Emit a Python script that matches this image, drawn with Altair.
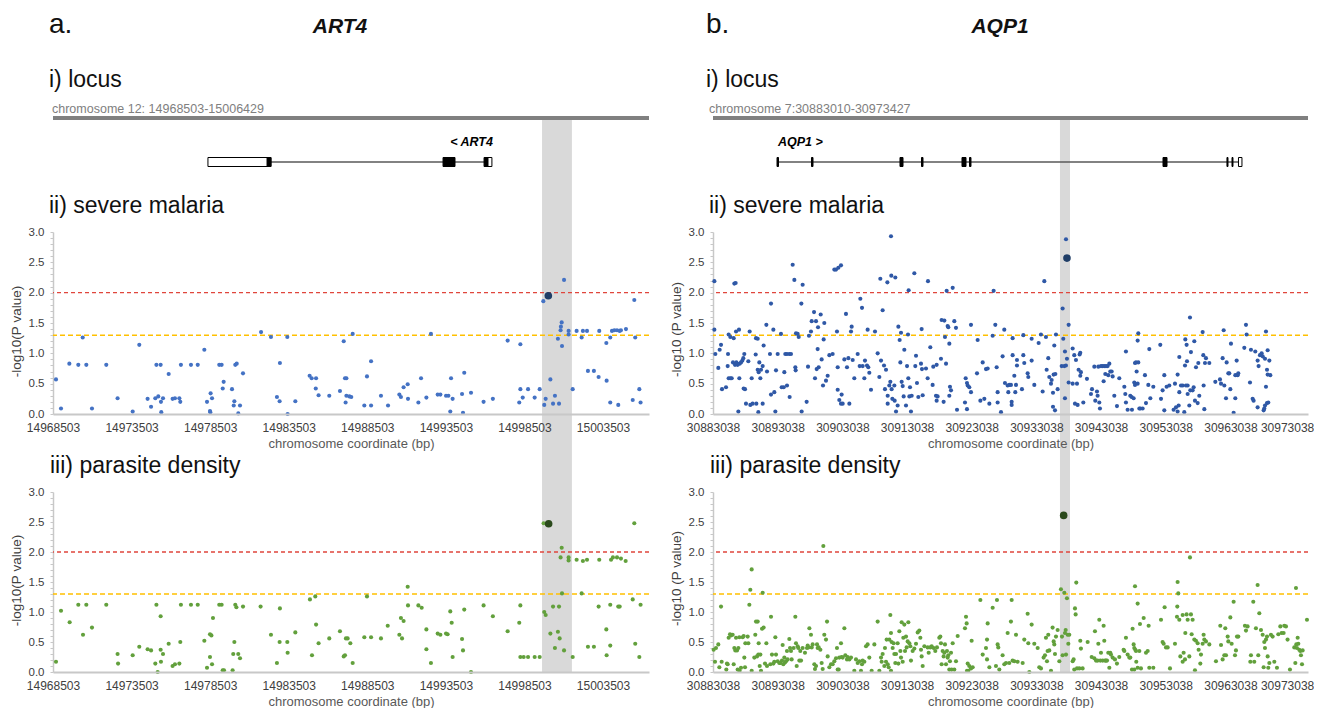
import altair as alt
import pandas as pd

FONT = "Liberation Sans"

# ---------------- data (positions in kb from region start, -log10 P) ----------------
ART4_START = 14968503
ART4_END = 15006429
ART4_TICKS = [14968503, 14973503, 14978503, 14983503, 14988503, 14993503, 14998503, 15003503]
ART4_CHROM = "chromosome 12: 14968503-15006429"

AQP1_START = 30883038
AQP1_AXIS_END = 30975038
AQP1_TICKS = [30883038, 30893038, 30903038, 30913038, 30923038, 30933038,
              30943038, 30953038, 30963038, 30973038]
AQP1_CHROM = "chromosome 7:30883010-30973427"

ART4_SEVERE = [
    (0.19, 0.57), (0.51, 0.09), (1.04, 0.83), (1.61, 0.81), (1.89, 1.26), (2.12, 0.81), (2.48, 0.09),
    (3.39, 0.81), (4.11, 0.26), (5.07, 0.04), (5.49, 1.14), (6.02, 0.25), (6.24, 0.12), (6.51, 0.26),
    (6.58, 0.81), (6.70, 0.29), (6.85, 0.81), (6.87, 0.20), (6.89, 0.03), (7.00, 0.26), (7.36, 0.66),
    (7.61, 0.25), (7.76, 0.26), (8.04, 0.26), (8.10, 0.20), (8.14, 0.81), (8.78, 0.81), (9.21, 0.81),
    (9.63, 1.06), (9.80, 0.20), (10.03, 0.34), (10.01, 0.03), (9.99, 0.05), (10.12, 0.26), (10.58, 0.81),
    (10.73, 0.81), (10.80, 0.42), (10.86, 0.53), (11.39, 0.41), (11.50, 0.14), (11.54, 0.21), (11.60, 0.81),
    (11.69, 0.83), (11.79, 0.01), (11.90, 0.14), (12.09, 0.67), (13.24, 1.35), (13.87, 1.27), (14.25, 0.28),
    (14.42, 0.21), (14.44, 0.84), (14.91, 1.27), (14.93, 0.00), (15.42, 0.21), (16.33, 0.63), (16.46, 0.59),
    (16.74, 0.59), (16.72, 0.42), (16.90, 0.31), (17.58, 0.30), (18.26, 0.38), (18.50, 1.20), (18.58, 0.59),
    (18.67, 0.59), (18.62, 0.19), (18.67, 0.30), (18.86, 0.29), (18.98, 0.28), (19.07, 1.32), (19.81, 0.14),
    (19.98, 0.62), (20.24, 0.14), (20.24, 0.87), (20.87, 0.30), (21.32, 0.14), (22.04, 0.32), (22.14, 0.28),
    (22.31, 0.44), (22.57, 0.49), (22.59, 0.25), (23.25, 0.19), (23.42, 0.59), (23.76, 0.27), (24.05, 1.32),
    (24.48, 0.32), (24.65, 0.32), (25.01, 0.30), (25.16, 0.30), (25.33, 0.59), (25.28, 0.04), (25.43, 0.25),
    (26.03, 0.33), (26.09, 0.02), (26.17, 0.68), (26.60, 0.35), (27.40, 0.20), (27.99, 0.25), (28.93, 1.21),
    (29.67, 0.19), (29.74, 1.15), (29.74, 0.41), (29.89, 0.27), (30.23, 0.41), (30.65, 0.27), (30.97, 0.41),
    (31.20, 1.86), (31.26, 0.15), (31.35, 0.25), (31.65, 0.57), (31.82, 0.17), (31.94, 0.30), (32.13, 1.24),
    (32.20, 0.17), (32.30, 1.38), (32.32, 1.44), (32.37, 1.51), (32.39, 1.12), (32.52, 2.21), (32.81, 1.37),
    (32.81, 1.31), (33.07, 0.41), (33.32, 1.37), (33.64, 1.26), (33.72, 1.37), (33.98, 1.37), (34.04, 0.71),
    (34.42, 0.71), (34.72, 0.61), (34.76, 1.37), (35.21, 1.17), (35.23, 0.55), (35.46, 1.26), (35.46, 0.19),
    (35.57, 1.37), (35.72, 1.38), (35.89, 1.38), (35.97, 0.15), (36.06, 1.37), (36.14, 1.38), (36.46, 1.40),
    (36.89, 0.23), (36.99, 1.88), (37.05, 1.26), (37.31, 0.41), (37.39, 0.19),
]
ART4_SEVERE_TOP = (31.52, 1.95)

ART4_PARASITE = [
    (0.19, 0.17), (0.51, 1.02), (1.06, 0.83), (1.61, 1.12), (1.91, 0.62), (2.12, 1.12), (2.48, 0.74),
    (3.39, 1.12), (4.11, 0.30), (4.14, 0.14), (5.07, 0.28), (5.49, 0.42), (6.02, 0.38), (6.24, 0.36),
    (6.51, 0.14), (6.58, 1.12), (6.66, 0.00), (6.85, 0.37), (6.85, 0.93), (6.87, 0.17), (7.00, 0.30),
    (7.36, 0.47), (7.61, 0.10), (7.76, 0.13), (8.04, 0.14), (8.10, 0.50), (8.14, 1.12), (8.78, 1.12),
    (9.21, 1.12), (9.63, 0.52), (9.80, 0.07), (9.99, 0.63), (10.08, 0.61), (9.99, 0.25), (10.12, 0.13),
    (10.18, 0.90), (10.58, 1.12), (10.73, 1.12), (10.80, 0.03), (10.88, 0.03), (11.43, 0.03), (11.47, 0.30),
    (11.54, 0.50), (11.60, 1.12), (11.67, 1.08), (11.79, 0.30), (11.90, 0.23), (12.09, 1.09), (13.21, 1.09),
    (13.87, 0.62), (14.25, 0.15), (14.42, 0.50), (14.44, 1.06), (14.91, 0.50), (14.93, 0.32), (15.42, 0.66),
    (16.35, 1.21), (16.48, 0.28), (16.69, 1.26), (16.74, 0.79), (16.90, 0.48), (17.58, 0.56), (18.26, 0.68),
    (18.50, 0.26), (18.58, 0.28), (18.64, 0.56), (18.75, 0.56), (18.92, 0.48), (19.07, 0.15), (19.81, 0.58),
    (19.98, 1.26), (20.24, 0.58), (20.87, 0.56), (21.30, 0.77), (22.04, 0.62), (22.14, 0.90), (22.21, 0.56),
    (22.31, 0.85), (22.57, 1.42), (22.59, 1.11), (23.25, 1.11), (23.46, 1.07), (23.76, 0.71), (23.76, 0.38),
    (24.05, 0.15), (24.48, 0.64), (24.65, 0.62), (25.01, 0.64), (25.11, 0.63), (25.28, 1.01), (25.37, 0.82),
    (25.43, 0.25), (26.03, 0.55), (26.09, 0.36), (26.17, 1.04), (26.60, 0.00), (27.40, 1.11), (27.99, 0.93),
    (28.93, 0.68), (29.67, 0.82), (29.74, 1.11), (29.74, 0.25), (29.95, 0.25), (30.23, 0.25), (30.65, 0.25),
    (30.97, 0.25), (31.22, 2.48), (31.26, 1.00), (31.35, 0.95), (31.65, 0.64), (31.82, 1.09), (31.94, 0.40),
    (32.13, 0.67), (32.20, 1.09), (32.24, 0.56), (32.30, 1.91), (32.37, 2.07), (32.39, 1.31), (32.52, 0.36),
    (32.81, 1.91), (32.81, 1.86), (33.07, 0.25), (33.32, 1.87), (33.64, 1.31), (33.72, 1.85), (33.98, 1.87),
    (34.04, 0.42), (34.42, 0.42), (34.72, 1.09), (34.76, 1.87), (35.21, 0.71), (35.23, 0.28), (35.46, 1.12),
    (35.46, 0.44), (35.51, 1.87), (35.63, 1.91), (35.89, 1.91), (35.97, 1.09), (36.06, 1.09), (36.14, 1.89),
    (36.44, 1.85), (36.89, 1.21), (36.99, 2.48), (37.05, 0.47), (37.31, 0.25), (37.39, 1.12),
]
ART4_PARASITE_TOP = (31.54, 2.47)

AQP1_SEVERE = [
    (0.21, 2.19), (0.21, 1.39), (0.36, 0.99), (0.82, 0.76), (1.03, 1.06), (1.24, 1.14), (1.39, 0.41),
    (2.01, 0.44), (2.27, 0.79), (2.32, 0.99), (2.42, 1.31), (2.42, 0.59), (2.68, 1.27), (2.68, 0.59),
    (2.89, 0.59), (3.09, 0.85), (3.20, 1.25), (3.30, 2.15), (3.50, 2.16), (3.40, 0.81), (3.56, 1.36),
    (3.61, 0.85), (3.81, 0.81), (3.92, 0.04), (4.02, 1.39), (4.07, 0.59), (4.12, 0.83), (4.33, 0.85),
    (4.54, 0.88), (4.69, 0.92), (4.74, 0.42), (4.84, 0.99), (4.95, 0.41), (5.10, 0.17), (5.46, 0.87),
    (5.67, 1.36), (5.77, 0.15), (5.98, 0.59), (6.13, 0.17), (6.60, 0.98), (6.65, 1.25), (6.70, 0.17),
    (6.91, 1.24), (6.91, 0.73), (7.01, 0.03), (7.06, 0.69), (7.16, 0.85), (7.32, 0.59), (7.42, 0.73),
    (7.68, 0.79), (7.68, 0.17), (7.83, 1.13), (8.25, 1.47), (8.35, 0.70), (8.81, 0.99), (8.97, 1.82),
    (8.97, 0.32), (9.33, 1.39), (9.48, 0.36), (9.64, 0.04), (9.74, 0.72), (10.00, 0.99), (10.51, 1.32),
    (10.62, 0.44), (10.93, 0.44), (11.03, 0.69), (11.18, 0.99), (11.44, 0.99), (11.44, 0.47), (11.80, 0.99),
    (11.85, 0.28), (12.06, 0.99), (12.32, 2.46), (12.58, 2.21), (12.73, 0.77), (12.78, 0.72), (12.83, 1.33),
    (13.09, 1.32), (13.25, 1.27), (13.66, 1.82), (13.71, 0.04), (13.86, 2.13), (14.48, 0.20), (14.69, 0.78),
    (14.84, 1.29), (15.15, 1.36), (15.26, 1.53), (15.62, 1.68), (15.77, 0.59), (15.93, 1.53), (16.03, 0.74),
    (16.18, 1.07), (16.24, 1.43), (16.34, 0.77), (16.65, 1.64), (16.80, 0.90), (17.01, 0.47), (17.11, 1.23),
    (17.21, 1.50), (17.47, 0.55), (17.73, 0.63), (17.99, 0.97), (18.50, 0.99), (18.76, 2.38), (19.02, 2.38),
    (19.17, 1.36), (19.28, 0.77), (19.28, 0.40), (19.38, 2.41), (19.53, 0.23), (19.79, 2.45), (19.79, 0.17),
    (19.89, 0.32), (20.05, 0.17), (20.31, 0.90), (20.56, 1.65), (20.72, 0.77), (20.93, 0.92), (21.08, 0.17),
    (21.34, 1.36), (21.44, 1.44), (21.60, 0.89), (21.85, 0.59), (22.37, 0.99), (22.68, 0.79), (22.78, 1.90),
    (23.04, 1.75), (23.14, 0.79), (23.40, 0.59), (23.50, 0.88), (23.81, 0.80), (23.91, 1.39), (24.01, 0.77),
    (24.17, 0.68), (24.43, 0.40), (25.05, 1.36), (25.46, 1.00), (25.72, 0.61), (25.87, 2.23), (25.98, 0.88),
    (26.23, 1.71), (26.44, 0.80), (26.59, 0.41), (26.75, 0.73), (26.96, 2.17), (27.01, 0.30), (27.01, 0.17),
    (27.26, 0.47), (27.42, 0.53), (27.52, 2.93), (27.57, 2.28), (27.62, 0.41), (27.73, 0.25), (28.04, 0.47),
    (28.09, 0.22), (28.19, 2.25), (28.30, 0.04), (28.55, 0.14), (28.66, 1.44), (28.86, 1.22), (28.97, 0.85),
    (29.07, 1.34), (29.17, 0.53), (29.33, 0.46), (29.48, 0.29), (29.58, 1.06), (29.84, 0.14), (30.00, 0.79),
    (30.15, 1.31), (30.20, 0.59), (30.25, 2.04), (30.36, 0.29), (30.46, 0.44), (30.61, 0.04), (30.72, 0.30),
    (31.13, 2.32), (31.28, 0.79), (31.39, 0.96), (31.54, 0.51), (31.75, 0.28), (32.16, 0.83), (32.26, 1.40),
    (32.31, 0.74), (32.42, 0.31), (32.93, 0.75), (33.19, 0.59), (33.24, 2.19), (33.60, 1.10), (33.96, 0.48),
    (34.06, 0.78), (34.48, 0.30), (34.58, 0.22), (34.58, 0.81), (34.73, 0.29), (35.25, 0.91), (35.35, 1.55),
    (35.66, 0.20), (35.77, 1.54), (35.87, 1.27), (36.03, 0.83), (36.13, 2.03), (36.28, 1.45), (36.38, 1.43),
    (36.54, 1.16), (36.54, 0.30), (36.64, 0.45), (36.80, 0.39), (37.06, 2.08), (37.31, 1.53), (37.57, 1.42),
    (37.73, 0.07), (38.96, 0.19), (39.07, 0.59), (39.27, 0.51), (39.27, 0.08), (39.38, 0.47), (39.63, 0.44),
    (39.89, 0.36), (39.89, 1.47), (40.82, 0.67), (40.92, 1.22), (41.34, 0.22), (41.70, 0.85), (41.95, 0.25),
    (42.21, 0.74), (42.47, 0.75), (42.73, 0.17), (43.24, 1.29), (43.39, 2.03), (43.65, 1.47), (43.86, 0.77),
    (44.01, 0.36), (44.53, 0.03), (44.01, 0.19), (44.78, 0.95), (45.04, 1.39), (45.14, 0.51), (45.56, 0.47),
    (45.66, 0.36), (45.81, 0.48), (46.07, 0.48), (46.18, 0.20), (46.18, 0.15), (46.33, 0.97), (46.33, 1.25),
    (46.59, 0.63), (46.74, 0.36), (46.85, 0.48), (47.00, 0.80), (47.00, 0.89), (47.77, 0.41), (47.98, 0.97),
    (47.98, 1.30), (48.13, 0.84), (48.65, 0.67), (48.75, 0.61), (49.27, 1.24), (49.27, 0.88), (49.68, 0.48),
    (50.35, 1.17), (50.71, 1.31), (50.97, 0.37), (51.23, 2.19), (51.48, 1.27), (51.59, 0.73), (51.84, 0.92),
    (52.00, 0.61), (52.26, 0.50), (52.36, 0.56), (52.57, 0.35), (52.57, 0.12), (52.67, 0.65), (52.88, 0.06),
    (52.93, 0.66), (52.77, 1.13), (53.03, 1.31), (53.29, 0.41), (54.06, 1.74), (54.16, 1.24), (53.91, 0.79),
    (54.32, 0.79), (54.57, 0.80), (54.42, 0.26), (54.58, 2.88), (54.73, 0.91), (54.42, 1.03), (54.99, 1.47),
    (54.99, 0.52), (55.61, 1.08), (55.61, 0.50), (55.86, 0.97), (55.97, 0.17), (56.12, 0.89), (56.28, 0.50),
    (56.38, 0.15), (56.53, 0.73), (56.69, 0.98), (56.79, 1.01), (56.79, 0.63), (56.89, 0.69), (57.26, 0.19),
    (57.82, 0.58), (58.44, 0.33), (58.60, 0.41), (58.96, 0.78), (59.11, 0.22), (59.37, 0.37), (59.47, 0.30),
    (59.58, 0.78), (59.73, 0.19), (59.83, 0.09), (59.99, 0.79), (60.25, 0.79), (60.40, 0.54), (60.50, 0.79),
    (60.66, 0.66), (60.76, 0.79), (61.02, 0.79), (61.12, 0.64), (61.28, 0.83), (61.43, 0.70), (61.64, 0.70),
    (61.79, 0.62), (62.05, 0.30), (62.46, 0.13), (62.82, 0.59), (63.60, 0.45), (63.75, 0.33), (63.85, 1.03),
    (63.85, 0.19), (64.11, 0.07), (64.52, 0.30), (64.73, 0.28), (64.78, 0.07), (65.04, 0.26), (65.14, 0.52),
    (65.25, 0.48), (65.25, 0.84), (65.40, 0.85), (65.50, 0.70), (65.66, 1.21), (65.66, 0.50), (65.76, 1.33),
    (65.76, 0.85), (65.92, 0.09), (66.07, 0.09), (66.43, 0.09), (66.79, 0.64), (66.95, 0.18), (67.31, 0.48),
    (67.46, 1.07), (67.62, 0.26), (68.08, 0.45), (69.16, 1.14), (69.27, 0.25), (69.52, 0.39), (69.78, 0.64),
    (69.78, 0.06), (70.14, 0.45), (70.55, 0.47), (71.22, 0.07), (71.43, 0.50), (71.59, 0.11), (71.84, 0.65),
    (71.84, 0.04), (72.00, 0.14), (72.10, 0.94), (72.10, 0.36), (72.36, 0.47), (72.62, 0.47), (72.87, 0.03),
    (72.98, 0.80), (73.03, 1.23), (73.13, 0.47), (73.23, 1.14), (73.29, 0.87), (73.39, 0.47), (73.39, 0.33),
    (73.65, 0.14), (73.75, 1.59), (73.80, 0.39), (73.90, 1.02), (74.16, 0.39), (74.32, 0.44), (74.42, 1.20),
    (74.52, 0.22), (74.68, 0.77), (74.94, 0.18), (75.04, 0.84), (75.19, 0.30), (75.71, 1.35), (75.81, 0.97),
    (75.86, 0.47), (75.97, 0.08), (76.07, 0.84), (76.22, 0.92), (76.74, 0.84), (77.67, 0.53), (78.39, 0.57),
    (78.55, 0.50), (78.80, 0.92), (78.96, 1.38), (79.06, 0.47), (79.32, 0.26), (79.42, 0.85), (79.68, 0.67),
    (79.83, 0.67), (79.99, 0.41), (80.09, 1.16), (80.50, 0.02), (80.76, 0.26), (80.76, 0.64), (80.97, 0.88),
    (81.12, 0.64), (81.22, 0.67), (82.15, 1.09), (82.41, 1.47), (82.51, 1.31), (83.03, 0.52), (83.18, 1.06),
    (83.44, 0.25), (83.59, 0.22), (83.85, 1.03), (84.21, 0.11), (84.21, 0.88), (84.36, 0.79), (84.57, 0.97),
    (84.83, 1.00), (84.99, 0.95), (85.14, 0.06), (85.24, 0.09), (85.35, 0.14), (85.35, 0.91), (85.50, 1.36),
    (85.50, 0.45), (85.66, 0.18), (85.66, 0.73), (85.76, 1.05), (85.76, 0.65), (85.86, 0.19), (86.02, 0.88),
    (86.17, 0.64),
]
AQP1_SEVERE_TOP = (54.73, 2.57)

AQP1_PARASITE = [
    (0.10, 0.37), (0.31, 0.17), (0.46, 0.40), (0.82, 0.46), (0.98, 0.08), (1.24, 1.09), (1.34, 0.17),
    (2.06, 0.04), (2.16, 0.14), (2.27, 0.13), (2.42, 0.57), (2.63, 0.63), (2.78, 0.61), (3.04, 0.62),
    (3.20, 0.13), (3.30, 0.40), (3.45, 0.36), (3.56, 0.57), (3.71, 0.36), (3.81, 0.04), (3.92, 0.40),
    (4.07, 0.58), (4.12, 0.02), (4.33, 0.07), (4.59, 0.58), (4.74, 0.60), (4.84, 0.24), (4.95, 0.08),
    (5.00, 0.48), (5.36, 0.59), (5.46, 0.48), (5.62, 1.12), (5.77, 1.37), (5.98, 1.71), (5.98, 0.02),
    (6.39, 0.24), (6.54, 0.62), (6.65, 0.84), (6.80, 0.26), (6.91, 0.84), (7.01, 0.29), (7.06, 0.48),
    (7.22, 0.10), (7.32, 0.29), (7.42, 0.02), (7.58, 0.72), (7.68, 1.32), (7.83, 0.74), (8.04, 0.14),
    (8.25, 0.48), (8.35, 0.10), (8.86, 0.13), (8.97, 0.92), (9.12, 0.29), (9.33, 0.14), (9.48, 0.17),
    (9.64, 0.58), (9.74, 0.29), (10.00, 0.18), (10.25, 0.15), (10.41, 0.15), (10.67, 0.19), (10.77, 0.45),
    (10.87, 0.13), (11.03, 0.24), (11.13, 0.16), (11.29, 0.18), (11.44, 0.35), (11.54, 0.21), (11.80, 0.55),
    (11.91, 0.40), (12.06, 0.35), (12.16, 0.21), (12.47, 0.40), (12.73, 0.92), (12.83, 0.48), (12.94, 0.10),
    (13.09, 0.43), (13.19, 0.40), (13.35, 0.19), (13.50, 0.35), (13.61, 0.19), (13.86, 0.40), (14.22, 0.32),
    (14.53, 0.40), (14.64, 0.44), (14.74, 0.41), (14.90, 0.73), (15.15, 0.62), (15.26, 0.41), (15.41, 0.46),
    (15.67, 0.13), (15.77, 0.05), (15.93, 0.10), (16.08, 0.46), (16.18, 0.40), (16.34, 0.41), (16.60, 0.37),
    (16.80, 0.15), (16.96, 0.05), (17.06, 2.10), (17.21, 0.62), (17.47, 0.54), (17.63, 0.84), (17.73, 0.26),
    (17.99, 0.08), (18.25, 0.13), (18.50, 0.13), (18.76, 0.18), (19.02, 0.23), (19.17, 0.40), (19.28, 0.04),
    (19.43, 0.04), (19.53, 0.24), (19.79, 0.48), (19.89, 0.25), (20.05, 0.24), (20.31, 0.73), (20.46, 0.28),
    (20.72, 0.21), (20.82, 0.25), (21.08, 0.21), (21.34, 0.24), (21.85, 0.02), (22.11, 0.21), (22.37, 0.15),
    (22.63, 0.18), (22.88, 0.02), (23.04, 0.13), (23.14, 0.19), (23.40, 0.17), (23.66, 0.43), (23.91, 0.46),
    (24.17, 0.24), (24.53, 0.02), (24.95, 0.46), (25.46, 0.84), (25.72, 0.02), (25.98, 0.24), (26.08, 0.17),
    (26.23, 0.30), (26.49, 0.10), (26.59, 0.40), (26.75, 0.17), (26.85, 0.54), (27.01, 0.13), (27.16, 0.08),
    (27.26, 0.54), (27.42, 0.95), (27.52, 0.65), (27.52, 0.02), (27.62, 0.50), (27.78, 0.40), (27.93, 0.48),
    (28.04, 0.30), (28.19, 0.15), (28.30, 0.30), (28.55, 0.48), (28.66, 0.14), (28.81, 0.68), (28.97, 0.35),
    (29.07, 0.24), (29.17, 0.83), (29.33, 0.17), (29.43, 0.57), (29.58, 0.79), (29.69, 0.35), (29.84, 0.59),
    (29.94, 0.41), (30.10, 0.51), (30.20, 0.83), (30.36, 0.48), (30.51, 0.43), (30.61, 0.19), (30.87, 0.35),
    (31.13, 0.39), (31.39, 0.47), (31.65, 0.66), (31.90, 0.69), (32.06, 0.57), (32.16, 0.37), (32.26, 0.26),
    (32.42, 0.10), (32.68, 0.43), (33.19, 0.41), (33.35, 0.32), (33.60, 0.41), (33.81, 0.43), (34.12, 0.40),
    (34.37, 0.35), (34.63, 0.41), (34.99, 0.57), (35.15, 0.59), (35.25, 0.48), (35.35, 0.13), (35.51, 0.35),
    (35.66, 0.26), (35.77, 0.32), (35.87, 0.46), (36.03, 0.13), (36.18, 0.35), (36.28, 0.24), (36.38, 0.28),
    (36.54, 0.04), (36.64, 0.18), (36.80, 0.32), (36.90, 0.04), (37.06, 0.48), (37.31, 0.04), (37.57, 0.18),
    (37.83, 0.60), (38.96, 0.73), (39.12, 0.92), (39.22, 0.81), (39.27, 0.02), (39.38, 0.14), (39.48, 0.02),
    (39.63, 0.10), (39.89, 0.06), (39.99, 0.52), (40.15, 0.08), (41.34, 1.20), (41.70, 0.29), (42.21, 0.40),
    (42.37, 0.21), (42.47, 0.81), (42.37, 0.54), (42.73, 0.08), (43.24, 1.07), (43.75, 0.10), (43.91, 1.20),
    (44.01, 0.46), (44.11, 0.41), (44.27, 0.04), (44.78, 0.28), (45.04, 0.13), (45.30, 0.15), (45.56, 0.65),
    (45.81, 0.15), (46.07, 0.84), (46.18, 1.20), (46.33, 0.19), (46.59, 0.18), (46.85, 0.62), (47.10, 0.17),
    (47.88, 0.15), (48.13, 0.54), (48.65, 0.97), (48.75, 0.48), (48.91, 0.00), (49.27, 0.79), (49.68, 0.47),
    (50.20, 0.40), (50.45, 0.08), (50.71, 0.06), (51.12, 0.24), (51.33, 0.28), (51.48, 0.57), (51.64, 0.18),
    (51.74, 0.35), (51.84, 0.62), (52.00, 0.36), (52.26, 0.02), (52.51, 0.74), (52.67, 0.51), (52.77, 0.46),
    (52.88, 0.30), (53.03, 0.59), (53.29, 0.70), (53.55, 0.18), (53.80, 1.38), (53.96, 0.59), (54.06, 0.28),
    (54.32, 1.32), (54.42, 0.65), (54.53, 0.70), (54.58, 0.29), (54.73, 1.23), (54.84, 0.62), (54.94, 0.47),
    (55.09, 0.62), (55.61, 0.18), (55.76, 0.21), (55.86, 0.04), (55.97, 1.06), (56.07, 0.96), (56.17, 1.49),
    (56.28, 0.06), (56.64, 0.06), (56.79, 0.52), (56.89, 0.39), (57.15, 0.06), (57.93, 0.50), (58.55, 0.25),
    (58.96, 0.23), (59.06, 0.68), (59.22, 0.19), (59.47, 0.19), (59.58, 0.47), (59.73, 0.87), (59.89, 0.19),
    (59.99, 0.32), (60.25, 0.19), (60.40, 0.77), (60.50, 0.52), (60.61, 0.19), (60.76, 0.19), (60.92, 0.19),
    (61.12, 0.32), (61.28, 0.07), (61.43, 0.32), (61.53, 0.29), (61.79, 0.24), (62.15, 0.21), (62.46, 0.14),
    (62.82, 0.25), (63.49, 0.37), (63.60, 0.35), (63.85, 0.57), (64.11, 0.29), (64.37, 0.24), (64.52, 0.24),
    (64.78, 0.04), (64.88, 0.72), (65.04, 0.46), (65.14, 0.40), (65.14, 0.04), (65.25, 1.43), (65.30, 0.37),
    (65.40, 0.35), (65.45, 0.17), (65.66, 1.14), (65.66, 0.07), (65.92, 0.35), (66.02, 0.80), (66.17, 0.06),
    (66.59, 0.90), (66.95, 0.32), (67.21, 0.35), (67.36, 0.77), (67.46, 0.07), (68.08, 0.07), (69.27, 0.87),
    (69.52, 0.50), (69.68, 0.47), (69.83, 1.08), (70.04, 0.41), (70.30, 0.41), (70.66, 0.06), (71.43, 0.47),
    (71.74, 0.92), (71.79, 1.09), (71.84, 1.50), (71.94, 1.31), (72.10, 0.87), (72.26, 0.26), (72.62, 0.95),
    (72.62, 0.17), (72.77, 0.32), (72.98, 0.21), (73.03, 0.65), (73.23, 0.96), (73.39, 0.87), (73.65, 0.26),
    (73.75, 1.91), (73.90, 0.96), (74.01, 0.63), (74.16, 0.87), (74.42, 0.54), (74.52, 0.03), (74.68, 0.52),
    (74.94, 0.48), (75.09, 0.37), (75.35, 0.14), (75.45, 0.29), (75.71, 0.47), (75.86, 0.62), (75.97, 0.54),
    (76.22, 0.51), (76.74, 0.46), (77.77, 0.18), (78.44, 0.77), (78.55, 0.45), (78.80, 0.21), (79.06, 0.28),
    (79.21, 0.73), (79.32, 0.28), (79.58, 0.59), (79.68, 0.51), (79.99, 0.91), (80.19, 0.47), (80.50, 1.17),
    (80.71, 0.28), (80.86, 0.36), (81.02, 0.59), (81.22, 0.59), (82.25, 0.77), (82.41, 0.69), (82.66, 0.76),
    (83.08, 0.17), (83.18, 0.28), (83.54, 1.17), (83.69, 0.17), (83.95, 0.73), (84.21, 1.45), (84.31, 0.28),
    (84.47, 0.98), (84.73, 0.70), (84.99, 0.62), (85.14, 0.08), (85.24, 0.50), (85.35, 0.40), (85.50, 0.54),
    (85.66, 0.59), (85.76, 0.26), (85.86, 0.07), (86.02, 0.15), (86.27, 0.62), (86.53, 0.59), (86.79, 0.17),
    (87.20, 0.07), (87.41, 0.63), (87.72, 0.76), (87.92, 0.65), (88.23, 0.65), (88.33, 0.77), (88.59, 0.76),
    (88.84, 0.54), (89.21, 0.04), (89.88, 0.41), (90.04, 0.15), (90.14, 1.40), (90.19, 0.46), (90.29, 0.40),
    (90.40, 0.57), (90.50, 0.47), (90.65, 0.37), (90.81, 0.35), (90.91, 0.28), (91.07, 0.13), (91.17, 0.36),
    (91.84, 0.87),
]
AQP1_PARASITE_TOP = (54.22, 2.61)

# gene models (kb from region start): exon start, exon end, fill
ART4_GENE = (9.86, 27.93)
ART4_EXONS = [(9.86, 13.87, "white"), (13.62, 13.87, "black"), (24.82, 25.58, "black"),
              (27.43, 27.68, "black"), (27.68, 27.93, "white")]
AQP1_GENE = (9.90, 81.79)
AQP1_EXONS = [(9.90, 10.13, "black"), (15.23, 15.46, "black"), (28.91, 29.38, "black"),
              (32.24, 32.47, "black"), (38.50, 39.12, "black"), (39.66, 39.89, "black"),
              (69.58, 70.20, "black"), (79.47, 79.63, "black"), (80.25, 80.40, "black"),
              (81.25, 81.79, "white")]

ART4_BAND = (31.12, 33.02)
AQP1_BAND = (53.65, 55.20)

THRESHOLDS = [2.0, 1.3]
Y_TICKS = [round(0.1 * i, 1) for i in range(31)]

# ---------------- layout constants ----------------
W_LEFT, W_RIGHT = 596, 595
H_LOCUS, H_SEV, H_PAR = 146, 182, 180
ROW_GAP, COL_GAP = 78, 64

BAND_COLOR = "#d9d9d9"
AXIS_GREY = "#c8c8c8"
LABEL_COL = "#404040"


def to_bp(kb, start):
    return start + int(round(kb * 1000))


def pts_df(pairs, start):
    return pd.DataFrame({"pos": [to_bp(k, start) for k, _ in pairs],
                         "logp": [v for _, v in pairs]})


def locus_cell(start, dom, width, letter, gene_name, chrom, gene, exons, band,
               gene_label, label_at_end, letter_dx):
    xs = alt.Scale(domain=dom, nice=False, zero=False)
    band_df = pd.DataFrame({"b0": [to_bp(band[0], start)], "b1": [to_bp(band[1], start)]})
    band_l = alt.Chart(band_df).mark_rect(color=BAND_COLOR).encode(
        x=alt.X("b0:Q", scale=xs, axis=None), x2="b1:Q",
        y=alt.value(112), y2=alt.value(H_LOCUS + ROW_GAP))
    chrom_df = pd.DataFrame({"c0": [dom[0]], "c1": [dom[1]]})
    chrom_l = alt.Chart(chrom_df).mark_rule(color="#808080", strokeWidth=4).encode(
        x=alt.X("c0:Q", scale=xs, axis=None), x2="c1:Q", y=alt.value(110))
    gene_df = pd.DataFrame({"g0": [to_bp(gene[0], start)], "g1": [to_bp(gene[1], start)]})
    gene_l = alt.Chart(gene_df).mark_rule(color="#595959", strokeWidth=1.5).encode(
        x=alt.X("g0:Q", scale=xs, axis=None), x2="g1:Q", y=alt.value(154))
    ex_df = pd.DataFrame({"e0": [to_bp(a, start) for a, _, _ in exons],
                          "e1": [to_bp(b, start) for _, b, _ in exons],
                          "f": [f for _, _, f in exons]})
    ex_l = alt.Chart(ex_df).mark_rect(stroke="black", strokeWidth=1).encode(
        x=alt.X("e0:Q", scale=xs, axis=None), x2="e1:Q",
        y=alt.value(149.5), y2=alt.value(158.5),
        fill=alt.Fill("f:N", scale=None))
    lab_df = pd.DataFrame({"x": [to_bp(gene[1] if label_at_end else gene[0], start)],
                           "t": [gene_label]})
    lab_l = alt.Chart(lab_df).mark_text(
        font=FONT, fontSize=12.5, fontWeight="bold", fontStyle="italic",
        align="right" if label_at_end else "left", baseline="alphabetic",
        dx=1, color="black").encode(
        x=alt.X("x:Q", scale=xs, axis=None), y=alt.value(138), text="t:N")

    def txt(t, x, y, size, **kw):
        return alt.Chart(pd.DataFrame({"t": [t]})).mark_text(
            font=FONT, fontSize=size, baseline="alphabetic", **kw).encode(
            x=alt.value(x), y=alt.value(y), text="t:N")

    letter_l = txt(letter, letter_dx, 25, 28, align="left", color="#111111")
    title_l = txt(gene_name, 287, 25, 21, align="center", fontWeight="bold",
                  fontStyle="italic", color="#111111")
    locus_l = txt("i) locus", letter_dx, 79, 23, align="left", color="#111111")
    chrom_t = txt(chrom, letter_dx + 3, 105, 12.5, align="left", color="#808080")
    return alt.layer(band_l, chrom_l, gene_l, ex_l, lab_l, letter_l, title_l, locus_l,
                     chrom_t).properties(width=width, height=H_LOCUS)


def scatter_cell(pairs, top, start, dom, ticks, band, width, height, color, hicolor,
                 ytitle, label, label_dx, band_extra, title_y):
    xs = alt.Scale(domain=dom, nice=False, zero=False)
    ys = alt.Scale(domain=[0, 3], nice=False, zero=True)
    # the right-most tick label is nudged inwards so that it stays on the page
    last_tick = ticks[-1]
    xaxis = alt.Axis(values=ticks, format="d", title="chromosome coordinate (bp)",
                     tickSize=0, labelPadding=8, labelFontSize=12, labelColor=LABEL_COL,
                     labelFlush=False, labelOverlap=False, domainColor=AXIS_GREY,
                     labelOffset=alt.condition(f"datum.value == {last_tick}",
                                               alt.value(-8 if width < 596 else 0),
                                               alt.value(0)),
                     domainWidth=2, grid=False, titleFontSize=13, titleFontWeight="normal",
                     titleColor="#595959", titlePadding=4, zindex=1, labelFont=FONT,
                     titleFont=FONT)
    yaxis = alt.Axis(values=Y_TICKS, title=ytitle, grid=False, tickSize=3,
                     tickColor=AXIS_GREY, domainColor=AXIS_GREY, domainWidth=1.5,
                     labelExpr="round(datum.value*10) % 5 == 0 ? format(datum.value, '.1f') : ''",
                     labelFontSize=11.5, labelColor=LABEL_COL, labelPadding=6,
                     labelFlush=False, labelOverlap=False, titleFontSize=13.5,
                     titleFontWeight="normal", titleColor=LABEL_COL, titlePadding=5,
                     titleY=title_y, labelFont=FONT, titleFont=FONT)
    band_df = pd.DataFrame({"pos": [to_bp(band[0], start)], "b1": [to_bp(band[1], start)]})
    band_l = alt.Chart(band_df).mark_rect(color=BAND_COLOR).encode(
        x=alt.X("pos:Q", scale=xs, axis=xaxis), x2="b1:Q",
        y=alt.value(0), y2=alt.value(height + band_extra))
    red = alt.Chart(pd.DataFrame({"logp": [THRESHOLDS[0]]})).mark_rule(
        color="#e0463c", strokeDash=[4, 3], strokeWidth=1.3).encode(
        y=alt.Y("logp:Q", scale=ys, axis=yaxis))
    orange = alt.Chart(pd.DataFrame({"logp": [THRESHOLDS[1]]})).mark_rule(
        color="#ffc000", strokeDash=[5, 3], strokeWidth=1.5).encode(
        y=alt.Y("logp:Q", scale=ys, axis=yaxis))
    pts = alt.Chart(pts_df(pairs, start)).mark_circle(size=17, color=color, opacity=1).encode(
        x=alt.X("pos:Q", scale=xs, axis=xaxis),
        y=alt.Y("logp:Q", scale=ys, axis=yaxis))
    hi = alt.Chart(pts_df([top], start)).mark_circle(size=58, color=hicolor, opacity=1).encode(
        x=alt.X("pos:Q", scale=xs, axis=xaxis),
        y=alt.Y("logp:Q", scale=ys, axis=yaxis))
    lab = alt.Chart(pd.DataFrame({"t": [label]})).mark_text(
        font=FONT, fontSize=23, align="left", baseline="alphabetic", color="#111111").encode(
        x=alt.value(label_dx), y=alt.value(-19.5), text="t:N")
    return alt.layer(band_l, red, orange, pts, hi, lab).properties(width=width, height=height)


ART4_DOM = [ART4_START, ART4_END]
AQP1_DOM = [AQP1_START, AQP1_AXIS_END]

L1 = locus_cell(ART4_START, ART4_DOM, W_LEFT, "a.", "ART4", ART4_CHROM, ART4_GENE,
                ART4_EXONS, ART4_BAND, "< ART4", True, -4)
R1 = locus_cell(AQP1_START, AQP1_DOM, W_RIGHT, "b.", "AQP1", AQP1_CHROM, AQP1_GENE,
                AQP1_EXONS, AQP1_BAND, "AQP1 >", False, -7)
L2 = scatter_cell(ART4_SEVERE, ART4_SEVERE_TOP, ART4_START, ART4_DOM, ART4_TICKS, ART4_BAND,
                  W_LEFT, H_SEV, "#4472c4", "#1f3d66", "-log10(P value)", "ii) severe malaria",
                  -4, ROW_GAP, 99)
R2 = scatter_cell(AQP1_SEVERE, AQP1_SEVERE_TOP, AQP1_START, AQP1_DOM, AQP1_TICKS, AQP1_BAND,
                  W_RIGHT, H_SEV, "#2f58a6", "#1f3d66", "-log10 (P value)", "ii) severe malaria",
                  -4, ROW_GAP, 97)
L3 = scatter_cell(ART4_PARASITE, ART4_PARASITE_TOP, ART4_START, ART4_DOM, ART4_TICKS, ART4_BAND,
                  W_LEFT, H_PAR, "#62a03c", "#2b4a1c", "-log10(P value)", "iii) parasite density",
                  -3, 0, 88)
R3 = scatter_cell(AQP1_PARASITE, AQP1_PARASITE_TOP, AQP1_START, AQP1_DOM, AQP1_TICKS, AQP1_BAND,
                  W_RIGHT, H_PAR, "#62a03c", "#2b4a1c", "-log10 (P value)", "iii) parasite density",
                  -3, 0, 86)

chart = alt.concat(
    L1, R1, L2, R2, L3, R3, columns=2,
    spacing={"row": ROW_GAP, "column": COL_GAP}, bounds="flush",
).resolve_scale(x="independent", y="independent").properties(
    padding={"left": 1, "top": 0, "right": 0, "bottom": 0}
).configure(font=FONT, background="white").configure_view(stroke=None)

chart.save("out.html", embed_options={"renderer": "svg", "actions": False})
